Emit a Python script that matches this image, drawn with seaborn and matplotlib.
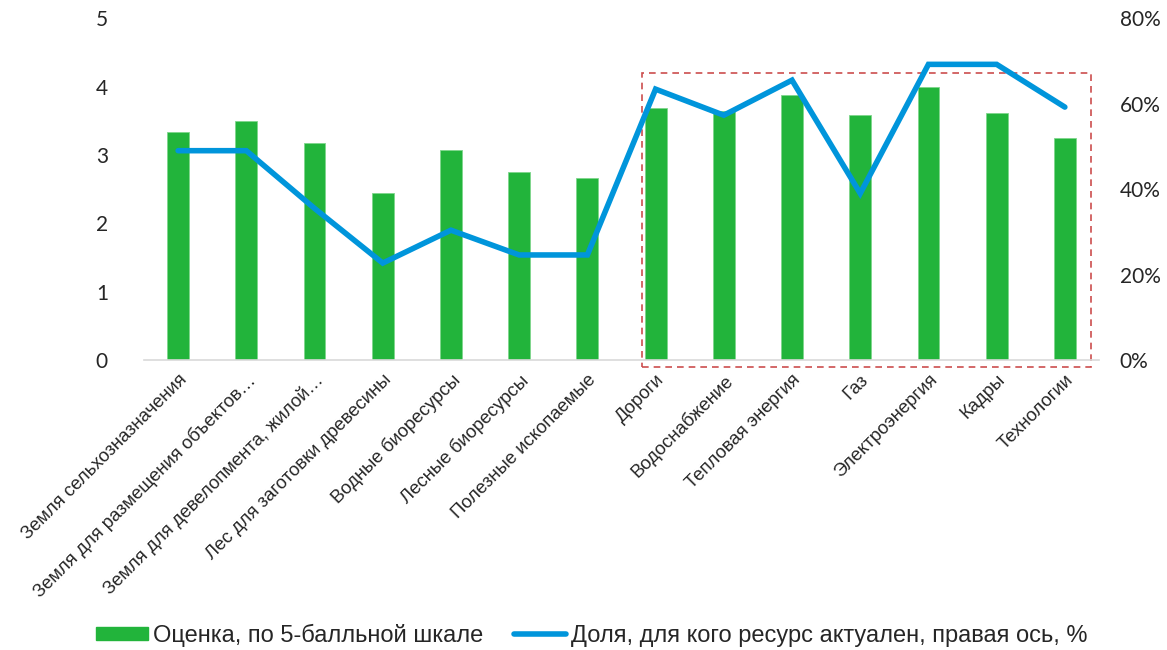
import numpy as np
import pandas as pd
import matplotlib
matplotlib.use('Agg')
import matplotlib.pyplot as plt
from matplotlib.patches import Patch, Rectangle
from matplotlib.lines import Line2D
from matplotlib.ticker import FuncFormatter
import seaborn as sns

# Data
categories = [
    "Земля сельхозназначения",
    "Земля для размещения объектов…",
    "Земля для девелопмента, жилой…",
    "Лес для заготовки древесины",
    "Водные биоресурсы",
    "Лесные биоресурсы",
    "Полезные ископаемые",
    "Дороги",
    "Водоснабжение",
    "Тепловая энергия",
    "Газ",
    "Электроэнергия",
    "Кадры",
    "Технологии",
]
scores = [3.33, 3.49, 3.17, 2.44, 3.07, 2.75, 2.66, 3.68, 3.64, 3.87, 3.58, 3.99, 3.61, 3.25]
share = [0.49, 0.49, 0.355, 0.227, 0.304, 0.246, 0.246, 0.634, 0.573, 0.655, 0.39, 0.692, 0.692, 0.592]

bar_label = "Оценка, по 5-балльной шкале"
line_label = "Доля, для кого ресурс актуален, правая ось, %"

GREEN = "#22b43b"
BLUE = "#0095db"
RED = "#cc4e4e"

sns.set_theme(style="white")
plt.rcParams['font.family'] = ['Liberation Sans', 'DejaVu Sans']

df = pd.DataFrame({"cat": categories, "score": scores, "share": share, "pos": np.arange(len(categories))})

fig = plt.figure(figsize=(11.67, 6.5), dpi=100)
ax = fig.add_axes([0.1234, 0.446, 0.8183, 0.526])

sns.barplot(data=df, x="cat", y="score", color=GREEN, width=0.32, ax=ax,
            edgecolor="#7fd68c", linewidth=0.6, saturation=1)
ax.set_ylim(0, 5)
ax.set_xlim(-0.5, len(categories) - 0.5)
ax.set_xlabel("")
ax.set_ylabel("")
ax.set_yticks(range(0, 6))
for s in ["top", "right", "left"]:
    ax.spines[s].set_visible(False)
ax.spines["bottom"].set_color("#d9d9d9")
ax.spines["bottom"].set_linewidth(1.2)
ax.tick_params(axis="y", length=0, pad=26, labelsize=15)
ax.tick_params(axis="x", length=0, pad=8)
for lbl in ax.get_yticklabels():
    lbl.set_family(['Lato', 'DejaVu Sans'])
ax.set_xticks(range(len(categories)))
ax.set_xticklabels(categories, rotation=45, ha="right", rotation_mode="anchor",
                   fontsize=13.3)

# dashed highlight frame around infrastructure resources
ax.add_patch(Rectangle((6.8, -0.1), 6.59, 4.3, fill=False, edgecolor=RED,
                       linestyle=(0, (4, 3)), linewidth=1.2, clip_on=False, zorder=1))

ax2 = ax.twinx()
sns.lineplot(data=df, x="pos", y="share", color=BLUE, linewidth=4, ax=ax2,
             solid_capstyle="round", solid_joinstyle="miter")
ax2.set_ylim(0, 0.8)
ax2.set_yticks([0, 0.2, 0.4, 0.6, 0.8])
ax2.yaxis.set_major_formatter(FuncFormatter(lambda v, p: f"{v*100:.0f}%"))
ax2.set_ylabel("")
ax2.set_xlabel("")
for s in ["top", "right", "left", "bottom"]:
    ax2.spines[s].set_visible(False)
ax2.tick_params(axis="y", length=0, pad=15, labelsize=15)
for lbl in ax2.get_yticklabels():
    lbl.set_family(['Lato', 'DejaVu Sans'])

handles = [Patch(facecolor=GREEN, edgecolor=GREEN),
           Line2D([0], [0], color=BLUE, linewidth=4, solid_capstyle="round")]
fig.legend(handles, [bar_label, line_label], loc="center", bbox_to_anchor=(0.507, 0.023),
           ncol=2, frameon=False, fontsize=17, handlelength=2.2, handleheight=0.5,
           handletextpad=0.2, columnspacing=1.3)

fig.savefig("out.png", dpi=100)
plt.close(fig)
